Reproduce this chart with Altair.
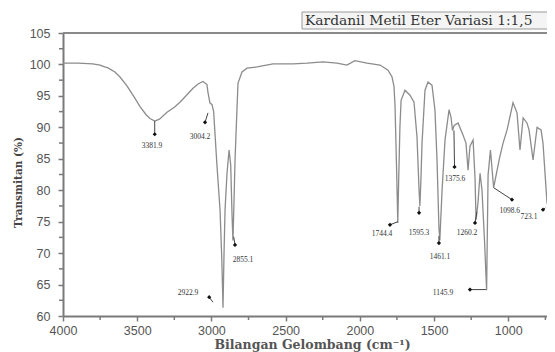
import altair as alt
import pandas as pd

# Spectrum (wavenumber cm^-1, transmittance %)
wavenumber = [4000, 3900, 3800, 3750, 3720, 3700, 3650, 3616, 3569, 3520, 3481, 3440, 3414, 3382,
              3350, 3299, 3250, 3212, 3160, 3124, 3090, 3057, 3030, 3023, 3010, 2996, 2985, 2962,
              2942, 2930, 2922, 2915, 2908, 2895, 2881, 2870, 2861, 2855, 2848, 2841, 2828, 2821,
              2794, 2760, 2693, 2585, 2450, 2356, 2248, 2154, 2087, 2033, 1952, 1864, 1810, 1783,
              1770, 1763, 1752, 1744.4, 1738, 1730, 1722, 1696, 1662, 1635, 1615, 1601, 1595.3,
              1588, 1581, 1561, 1541, 1514, 1494, 1480, 1467, 1461.1, 1446, 1426, 1399, 1385,
              1375.6, 1365, 1338, 1305, 1285, 1271, 1258, 1237, 1224, 1217, 1204, 1190, 1177,
              1160, 1145.9, 1136, 1120, 1098.6, 1060, 1035, 1008, 968, 941, 921, 900, 874, 860,
              833, 806, 779, 766, 739, 723.1, 700, 684]
transmittance = [100.2, 100.2, 100.1, 99.9, 99.6, 99.5, 98.8, 98.0, 96.6, 94.8, 93.3, 92.0, 91.4, 91.0,
                 91.3, 92.4, 93.2, 94.0, 95.3, 96.2, 96.9, 97.3, 96.8, 95.5, 93.9, 93.6, 92.5, 83.7,
                 76.9, 69.0, 61.3, 70.0, 77.0, 82.7, 86.4, 84.0, 76.0, 72.0, 78.0, 84.8, 92.8, 97.0,
                 98.8, 99.4, 99.6, 100.1, 100.1, 100.2, 100.4, 100.2, 99.9, 100.6, 100.2, 99.9, 99.1, 98.0,
                 96.5, 93.5, 83.0, 74.8, 82.0, 90.0, 94.3, 95.9, 95.1, 94.0, 88.5, 80.0, 77.5,
                 82.0, 87.5, 95.9, 97.2, 96.7, 92.8, 84.8, 74.0, 72.0, 80.0, 88.0, 92.8, 91.5,
                 89.5, 90.3, 90.7, 88.8, 87.5, 83.2, 87.0, 88.0, 82.0, 75.3, 78.0, 82.7, 80.0,
                 72.0, 64.1, 82.4, 86.4, 80.4, 85.0, 87.5, 89.6, 93.9, 92.3, 86.4, 91.5, 90.7, 89.6,
                 84.8, 90.0, 89.6, 87.5, 78.0, 77.3, 82.0, 84.0]

# Peak annotations
ann_text = ["3381.9", "3004.2", "2922.9", "2855.1", "1744.4", "1595.3", "1461.1", "1375.6",
            "1260.2", "1145.9", "1098.6", "723.1"]
ann_label_x = [3400, 3077, 3158, 2787, 1851, 1601, 1460, 1359, 1278, 1440, 990, 860]
ann_label_y = [87.0, 88.5, 63.7, 68.9, 73.0, 73.2, 69.4, 81.8, 73.2, 63.7, 76.7, 75.7]
arrow_x1 = [3382, 3023, 2990, 2850, 1743, 1601, 1467, 1366, 1212, 1150, 1098.6, 750]
arrow_y1 = [91.0, 92.3, 62.2, 72.6, 75.0, 77.4, 72.7, 89.5, 76.5, 64.2, 80.4, 77.2]
arrow_x2 = [3382, 3043, 3015, 2841, 1797, 1601, 1467, 1362, 1224, 1258, 975, 766]
arrow_y2 = [88.9, 90.8, 63.0, 71.3, 74.5, 76.4, 71.6, 83.7, 74.8, 64.2, 78.5, 76.9]

x_major = [4000, 3500, 3000, 2500, 2000, 1500, 1000]
x_minor = [3750, 3250, 2750, 2250, 1750, 1250, 750]
y_major = [60, 65, 70, 75, 80, 85, 90, 95, 100, 105]
y_minor = [62.5, 67.5, 72.5, 77.5, 82.5, 87.5, 92.5, 97.5, 102.5]

chart_title = ["Kardanil Metil Eter Variasi 1:1,5"]

spec = pd.DataFrame({"wn": wavenumber, "t": transmittance})
ann = pd.DataFrame({"text": ann_text, "lx": ann_label_x, "ly": ann_label_y,
                    "x1": arrow_x1, "y1": arrow_y1, "x2": arrow_x2, "y2": arrow_y2})
one = pd.DataFrame({"title": chart_title})
xmin_df = pd.DataFrame({"v": x_minor})
ymin_df = pd.DataFrame({"v": y_minor})

AX = "#7a7a7a"
xscale = alt.Scale(domain=[4000, 739], nice=False, zero=False)
yscale = alt.Scale(domain=[60, 105], nice=False, zero=False)

x_axis = alt.Axis(values=x_major, tickCount=50, format="d",
                  grid=False, domainColor=AX, domainWidth=2, tickColor=AX, tickWidth=1.5, tickSize=5,
                  labelFont="Liberation Sans", labelFontSize=12.5, labelColor="#555", labelPadding=3,
                  labelOverlap=False,
                  title="Bilangan Gelombang (cm⁻¹)", titleFont="DejaVu Serif", titleFontSize=12.5,
                  titleFontWeight="bold", titleColor="#555", titleX=249, titleY=28,
                  titleBaseline="middle", titleAlign="center", labelFlush=False)
y_axis = alt.Axis(values=y_major, tickCount=50, format="d",
                  grid=False, domainColor=AX, domainWidth=2, tickColor=AX, tickWidth=1.5, tickSize=5,
                  labelFont="Liberation Sans", labelFontSize=12.5, labelColor="#555", labelPadding=8,
                  labelOverlap=False,
                  title="Transmitan (%)", titleFont="DejaVu Serif", titleFontSize=10.5,
                  titleColor="#444", titleX=-45, titleY=149, titleAngle=270,
                  titleBaseline="middle", titleAlign="center", labelFlush=False)

line = alt.Chart(spec).mark_line(color="#8c8c8c", strokeWidth=1.3, clip=True).encode(
    x=alt.X("wn:Q", scale=xscale, axis=x_axis, sort=None),
    y=alt.Y("t:Q", scale=yscale, axis=y_axis),
    order=alt.Order("wn:Q", sort="descending"),
)

xminor = alt.Chart(xmin_df).mark_rule(color=AX, strokeWidth=1.5).encode(
    x=alt.X("v:Q"), y=alt.value(283), y2=alt.value(287))
yminor = alt.Chart(ymin_df).mark_rule(color=AX, strokeWidth=1.5).encode(
    y=alt.Y("v:Q"), x=alt.value(-4), x2=alt.value(0))

top = alt.Chart(one).mark_rule(color="#8a8a8a", strokeWidth=2).encode(y=alt.datum(105))

arrows = alt.Chart(ann).mark_rule(color="#444", strokeWidth=1).encode(
    x="x1:Q", y="y1:Q", x2="x2:Q", y2="y2:Q")
blobs = alt.Chart(ann).mark_point(filled=True, color="#111", size=18, opacity=1, shape="diamond").encode(
    x="x2:Q", y="y2:Q")
labels = alt.Chart(ann).mark_text(font="Liberation Serif", fontSize=7.5, color="#333",
                                  baseline="middle", align="center").encode(
    x="lx:Q", y="ly:Q", text="text:N")

box = alt.Chart(one).mark_rect(fill="#f4f4f4", stroke="#9a9a9a", strokeWidth=1).encode(
    x=alt.value(239), x2=alt.value(500), y=alt.value(-21), y2=alt.value(-4))
title = alt.Chart(one).mark_text(font="DejaVu Serif", fontSize=13.8, color="#333",
                                 align="left", baseline="middle").encode(
    x=alt.value(242), y=alt.value(-12), text="title:N")

chart = alt.layer(line, xminor, yminor, top, arrows, blobs, labels, box, title).properties(
    width=484, height=283,
    padding={"left": 55, "top": 25, "right": 0, "bottom": 36},
    autosize=alt.AutoSizeParams(type="none"),
    background="white",
).configure_view(strokeWidth=0)

chart.save("out.html", embed_options={"renderer": "svg", "actions": False})
